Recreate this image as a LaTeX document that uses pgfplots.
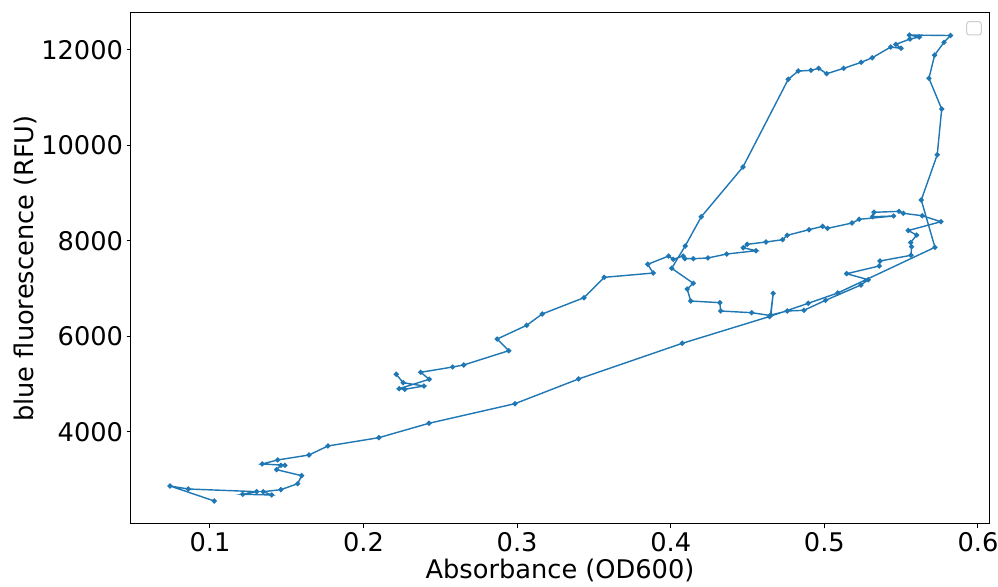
\documentclass[border=0pt]{standalone}
\usepackage{fontspec}
\setmainfont{DejaVu Sans}
\usepackage{pgfplots}
\pgfplotsset{compat=1.18}
\definecolor{mplblue}{HTML}{1F77B4}
\begin{document}
\begin{tikzpicture}
\useasboundingbox (-78.6pt,-37.8pt) rectangle (520.2pt,314.4pt);
\begin{axis}[
  at={(0pt,0pt)}, anchor=south west,
  width=514.8pt, height=306.6pt, scale only axis,
  xmin=0.0486, xmax=0.6072, ymin=2073, ymax=12775,
  xtick={0.1,0.2,0.3,0.4,0.5,0.6},
  ytick={4000,6000,8000,10000,12000},
  scaled x ticks=false, scaled y ticks=false,
  /pgf/number format/assume math mode=true,
  /pgf/number format/1000 sep={},
  x tick label style={/pgf/number format/fixed, /pgf/number format/fixed zerofill, /pgf/number format/precision=1},
  tick label style={font=\fontsize{15.4}{18}\selectfont, inner sep=2pt},
  tick align=outside, major tick length=2.6pt,
  xtick pos=left, ytick pos=left,
  axis line style={black, line width=0.6pt},
  every tick/.style={black, line width=0.6pt},
  xlabel={Absorbance (OD600)},
  ylabel={blue fluorescence (RFU)},
  every axis x label/.style={at={(axis description cs:0.5,0)}, yshift=-27.6pt, anchor=center, font=\fontsize{15.4}{18}\selectfont},
  every axis y label/.style={at={(axis description cs:0,0.5)}, xshift=-63.6pt, rotate=90, anchor=center, font=\fontsize{15.4}{18}\selectfont},
]
\addplot[color=mplblue, line width=0.85pt, mark=*, mark size=1.1pt, mark options={solid, fill=mplblue, draw=mplblue}] coordinates {
(0.1028,2555) (0.0740,2869) (0.0859,2806) (0.1304,2750) (0.1213,2695)
(0.1402,2681) (0.1347,2750) (0.1462,2792) (0.1571,2917) (0.1597,3085)
(0.1434,3211) (0.1462,3303) (0.1488,3303) (0.1340,3330) (0.1441,3414)
(0.1645,3518) (0.1768,3707) (0.2100,3881) (0.2426,4182) (0.2986,4593)
(0.3400,5110) (0.4075,5857) (0.4643,6418) (0.4895,6695) (0.5087,6911)
(0.5720,7868) (0.5631,8858) (0.5735,9807) (0.5764,10764) (0.5681,11407)
(0.5718,11894) (0.5779,12160) (0.5821,12303) (0.5553,12313) (0.5618,12271)
(0.5557,12229) (0.5466,12118) (0.5499,12035) (0.5432,12062) (0.5312,11838)
(0.5240,11742) (0.5126,11616) (0.5015,11503) (0.4963,11616) (0.4913,11574)
(0.4830,11559) (0.4765,11386) (0.4470,9549) (0.4199,8508) (0.4094,7895)
(0.4006,7428) (0.4147,7114) (0.4107,6994) (0.4130,6743) (0.4320,6708)
(0.4325,6534) (0.4527,6498) (0.4649,6440) (0.4667,6904) (0.4652,6450)
(0.4758,6534) (0.4867,6548) (0.5008,6758) (0.5238,7078) (0.5286,7189)
(0.5145,7315) (0.5357,7476) (0.5362,7581) (0.5564,7700) (0.5568,7880)
(0.5562,7968) (0.5601,8125) (0.5546,8219) (0.5759,8404) (0.5637,8529)
(0.5514,8580) (0.5486,8621) (0.5323,8601) (0.5314,8508) (0.5451,8523)
(0.5227,8454) (0.5180,8376) (0.5021,8265) (0.4989,8307) (0.4900,8236)
(0.4758,8119) (0.4728,8027) (0.4620,7979) (0.4498,7930) (0.4472,7859)
(0.4555,7796) (0.4364,7727) (0.4242,7644) (0.4147,7629) (0.4092,7629)
(0.4081,7685) (0.4016,7616) (0.3986,7685) (0.3850,7512) (0.3886,7329)
(0.3567,7239) (0.3435,6812) (0.3163,6471) (0.3062,6234) (0.2870,5947)
(0.2945,5702) (0.2652,5403) (0.2580,5361) (0.2372,5250) (0.2428,5104)
(0.2232,4907) (0.2268,4894) (0.2393,4963) (0.2258,5032) (0.2213,5208)
};
\draw[black!20, rounded corners=1.5pt, line width=0.6pt] (rel axis cs:0.974,0.957) rectangle (rel axis cs:0.991,0.983);
\end{axis}
\end{tikzpicture}
\end{document}
